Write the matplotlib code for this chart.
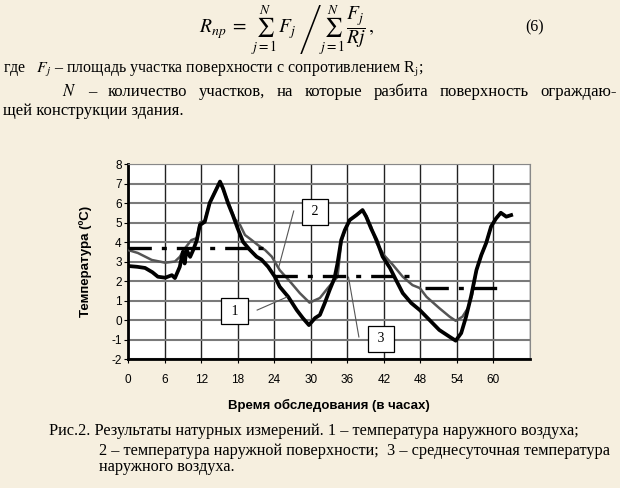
import matplotlib
matplotlib.use("Agg")
from matplotlib import pyplot as plt
import numpy as np

plt.rcParams['mathtext.fontset'] = 'stix'
plt.rcParams['axes.unicode_minus'] = False

# время, ч и температура наружного воздуха (кривая 1)
t1 = [0, 1.5, 2.8, 4.0, 4.9, 6.1, 7.2, 7.7, 8.5, 9.0, 9.3, 9.6, 10.2, 10.7,
      11.3, 11.8, 12.6, 13.4, 14.3, 15.1, 15.6, 16.4, 17.2, 18.0, 18.9, 20.0,
      21.1, 21.9, 23.0, 24.1, 24.9, 26.3, 27.7, 28.7, 29.7, 30.7, 31.5, 32.3,
      33.1, 33.9, 34.4, 35.0, 35.6, 36.4, 37.5, 38.5, 39.1, 39.9, 40.8, 41.8,
      43.0, 44.0, 45.1, 46.5, 47.9, 49.5, 51.1, 52.8, 53.8, 54.7, 55.5, 56.3,
      57.2, 58.0, 58.8, 59.6, 60.4, 61.2, 62.1, 62.9]
T1 = [2.77, 2.73, 2.67, 2.45, 2.22, 2.17, 2.3, 2.15, 2.73, 3.5, 2.9, 3.6,
      3.24, 3.59, 4.1, 4.87, 5.04, 6.0, 6.58, 7.1, 6.75, 6.0, 5.38, 4.7, 4.0,
      3.6, 3.25, 3.1, 2.73, 2.22, 1.71, 1.19, 0.51, 0.1, -0.26, 0.1, 0.26,
      0.87, 1.54, 2.15, 2.92, 4.1, 4.62, 5.13, 5.38, 5.64, 5.3, 4.7, 4.1,
      3.25, 2.67, 2.05, 1.38, 0.87, 0.51, 0.0, -0.51, -0.86, -1.06, -0.67,
      0.17, 1.19, 2.56, 3.33, 3.95, 4.79, 5.2, 5.5, 5.3, 5.38]

# температура наружной поверхности (кривая 2)
t2 = [0, 1.6, 3.9, 6.1, 7.7, 8.5, 9.3, 10.4, 11.3, 11.8, 12.6, 13.4, 14.3,
      15.1, 16.4, 17.5, 18.4, 19.2, 20.3, 21.3, 22.5, 23.6, 24.9, 26.6, 28.2,
      29.8, 31.5, 32.8, 34.4, 35.0, 35.6, 36.4, 37.5, 38.5, 39.1, 39.9, 40.8,
      42.1, 43.5, 45.1, 46.7, 47.9, 49.0, 51.1, 52.8, 53.8, 54.9, 55.8, 56.5,
      57.2, 58.0, 58.8, 59.6, 60.4, 61.2, 62.1, 62.9]
T2 = [3.59, 3.44, 3.08, 2.94, 3.0, 3.24, 3.66, 4.1, 4.2, 5.0, 5.1, 6.0, 6.6,
      7.05, 6.1, 5.2, 4.87, 4.36, 4.1, 3.85, 3.59, 3.25, 2.56, 1.97, 1.38,
      0.89, 1.13, 1.64, 2.22, 4.0, 4.6, 5.1, 5.4, 5.62, 5.35, 4.8, 3.95,
      3.3, 2.82, 2.22, 1.79, 1.64, 1.19, 0.61, 0.17, -0.04, 0.17, 0.61, 1.3,
      2.56, 3.33, 3.95, 4.79, 5.2, 5.5, 5.3, 5.38]

# среднесуточная температура (кривая 3)
t3_start = [0, 24, 48.7]
t3_end = [23.6, 47.5, 61.3]
T3 = [3.71, 2.26, 1.66]

xticks = list(range(0, 61, 6))
yticks = list(range(-2, 9))

# подписи кривых: (номер, центр рамки, начало выноски, конец выноски)
labels = [("1", (17.5, 0.46), (21.2, 0.51), (26.1, 1.18)),
          ("2", (30.7, 5.54), (27.2, 5.59), (24.75, 2.72)),
          ("3", (41.5, -0.97), (37.9, -0.87), (36.2, 2.2))]

bg = '#f6efdf'
fig = plt.figure(figsize=(6.2, 4.88), dpi=100, facecolor=bg)
renderer = fig.canvas.get_renderer()

serif = 'Liberation Serif'
sans = 'Liberation Sans'
W, H = 620.0, 488.0


def justify(words, x0, x1, y, size):
    # строка по ширине: слова расставлены равномерно от x0 до x1 (пиксели)
    objs = [fig.text(0, y / H, w, fontsize=size, family=serif, va='center')
            for w in words]
    widths = [o.get_window_extent(renderer).width for o in objs]
    gap = (x1 - x0 - sum(widths)) / (len(words) - 1)
    x = x0
    for o, w in zip(objs, widths):
        o.set_x(x / W)
        x += w + gap


# формула и текст над рисунком
fig.text(0.462, 0.938,
         r'$R_{пр}\;=\;\sum_{j=1}^{N}\,F_j\;\left/\sum_{j=1}^{N}\,\dfrac{F_j}{Rj}\right.\,,$',
         fontsize=14, ha='center', va='center', family=serif)
fig.text(0.862, 0.944, '(6)', fontsize=11.5, ha='center', va='center', family=serif)
fig.text(0.005, 0.858, r'где   $F_j$ – площадь участка поверхности с сопротивлением R$_\mathrm{j}$;',
         fontsize=11.5, ha='left', va='center', family=serif)
justify([r'$N$', '–', 'количество', 'участков,', 'на', 'которые', 'разбита',
         'поверхность', 'ограждаю-'], 62, 617, H - 92, 12)
fig.text(0.005, 0.773, 'щей конструкции здания.',
         fontsize=12, ha='left', va='center', family=serif)

ax = fig.add_axes([0.2065, 0.2643, 0.6484, 0.3996])
ax.set_facecolor('white')

for x in xticks + [66]:
    ax.axvline(x, color='#222222', lw=1.0, zorder=1)
for y in yticks:
    ax.axhline(y, color='#7a7a7a', lw=1.5, zorder=1)

ax.plot(t2, T2, color='#555555', lw=1.8, zorder=3)
ax.plot(t1, T1, color='black', lw=2.7, zorder=4)
for a, b, v in zip(t3_start, t3_end, T3):
    ax.plot([a, b], [v, v], color='black', lw=2.4,
            linestyle=(0, (7, 3, 1.5, 3)), zorder=5)

for txt, box, p0, p1 in labels:
    ax.plot([p0[0], p1[0]], [p0[1], p1[1]], color='#555555', lw=0.8, zorder=6)
    ax.text(box[0], box[1], ' ' + txt + ' ', fontsize=10, family=serif,
            ha='center', va='center', zorder=7,
            bbox=dict(boxstyle='square,pad=0.45', fc='white', ec='black', lw=0.9))

ax.set_xlim(0, 66)
ax.set_ylim(-2, 8)
ax.set_xticks(xticks)
ax.set_yticks(yticks)
ax.tick_params(axis='x', direction='out', length=3, pad=8, labelsize=8.5)
ax.tick_params(axis='y', direction='out', length=3, pad=1.5, labelsize=8.5)
for lab in ax.get_xticklabels() + ax.get_yticklabels():
    lab.set_family(sans)

ax.spines['left'].set_linewidth(2)
ax.spines['bottom'].set_linewidth(2)
ax.spines['top'].set_color('#888888')
ax.spines['right'].set_color('#888888')

ax.set_xlabel('Время обследования (в часах)', fontsize=9.5, fontweight='bold',
              family=sans, labelpad=9)
ax.set_ylabel('Температура (ºC)', fontsize=9.5, fontweight='bold',
              family=sans, labelpad=14)

# подпись к рисунку
fig.text(0.079, 0.117, 'Рис.2. Результаты натурных измерений. 1 – температура наружного воздуха;',
         fontsize=11.7, ha='left', va='center', family=serif)
fig.text(0.160, 0.076, '2 – температура наружной поверхности;  3 – среднесуточная температура',
         fontsize=11.7, ha='left', va='center', family=serif)
fig.text(0.160, 0.043, 'наружного воздуха.',
         fontsize=11.7, ha='left', va='center', family=serif)

fig.savefig('out.png', dpi=100, facecolor=bg)
